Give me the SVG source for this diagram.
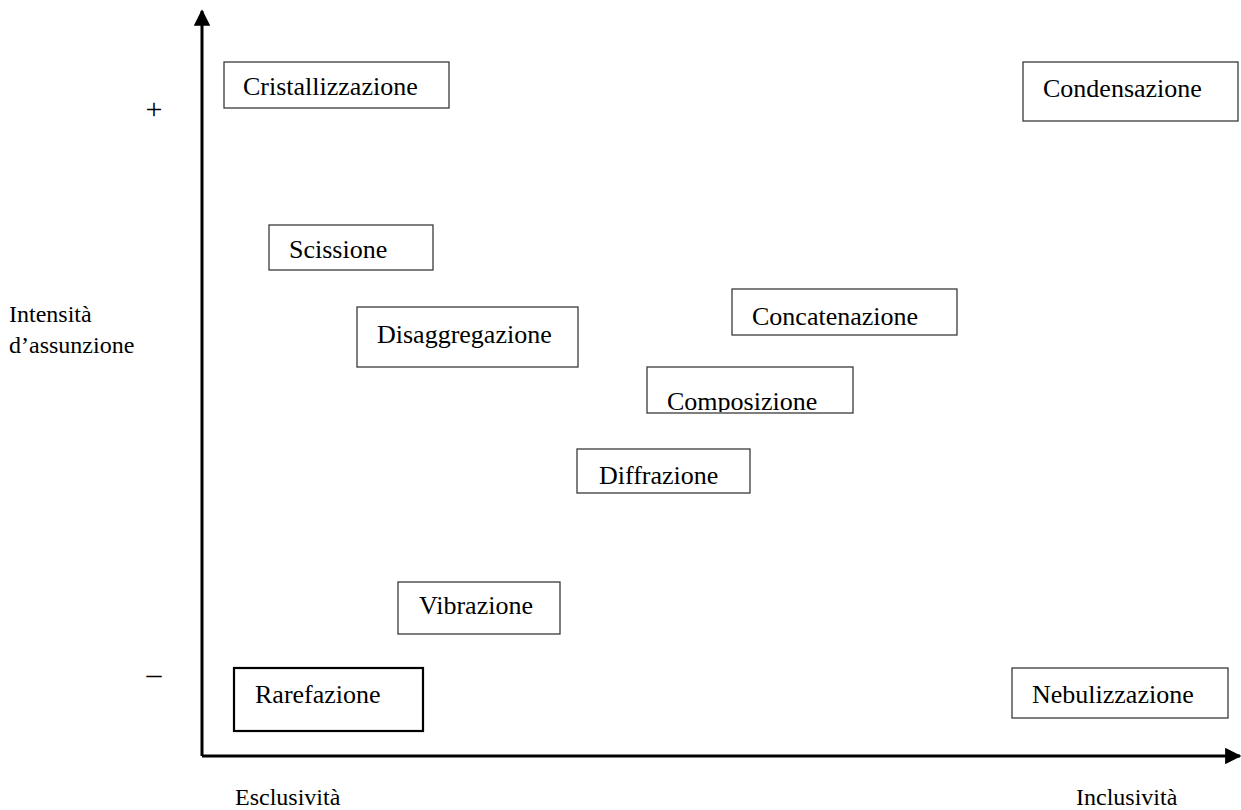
<svg xmlns="http://www.w3.org/2000/svg" width="1241" height="810" viewBox="0 0 1241 810">
  <style>
    .box { fill: #ffffff; stroke: #3a3a3a; stroke-width: 1.3; }
    .box.bold { stroke: #000000; stroke-width: 2.2; }
    .lbl { font-family: "Liberation Serif", "Times New Roman", serif; font-size: 26px; fill: #000000; }
    .axis-lbl { font-family: "Liberation Serif", "Times New Roman", serif; font-size: 24px; fill: #000000; }
    .mark { font-family: "Liberation Serif", "Times New Roman", serif; font-size: 30px; fill: #000000; text-anchor: middle; }
    .axis { stroke: #000000; stroke-width: 3; fill: none; }
  </style>
  <defs>
    <marker id="arrow" viewBox="0 0 10 10" refX="9" refY="5" markerWidth="5.5" markerHeight="5.5" markerUnits="strokeWidth" orient="auto">
      <path d="M0,0 L10,5 L0,10 Z" fill="#000000"/>
    </marker>
    <clipPath id="clip-composizione">
      <rect x="647" y="367" width="206" height="45"/>
    </clipPath>
  </defs>
  <rect width="1241" height="810" fill="#ffffff"/>

  <!-- axes -->
  <g id="connectors">
    <path class="axis" d="M202,756 L202,11" marker-end="url(#arrow)"/>
    <path class="axis" d="M202,756 L1240,756" marker-end="url(#arrow)"/>
  </g>

  <!-- axis labels and scale marks -->
  <g id="axis-labels">
    <text class="mark" x="154" y="119">+</text>
    <text class="mark" x="154" y="684">–</text>
    <text class="axis-lbl" x="9" y="322">Intensità</text>
    <text class="axis-lbl" x="9" y="353">d’assunzione</text>
    <text class="axis-lbl" x="235" y="805">Esclusività</text>
    <text class="axis-lbl" x="1076" y="805">Inclusività</text>
  </g>

  <g id="cristallizzazione">
    <rect class="box" x="224" y="62" width="225" height="46"/>
    <text class="lbl" x="243" y="95">Cristallizzazione</text>
  </g>
  <g id="condensazione">
    <rect class="box" x="1023" y="62" width="215" height="59"/>
    <text class="lbl" x="1043" y="97">Condensazione</text>
  </g>
  <g id="scissione">
    <rect class="box" x="269" y="225" width="164" height="45"/>
    <text class="lbl" x="289" y="258">Scissione</text>
  </g>
  <g id="disaggregazione">
    <rect class="box" x="357" y="307" width="221" height="60"/>
    <text class="lbl" x="377" y="343">Disaggregazione</text>
  </g>
  <g id="concatenazione">
    <rect class="box" x="732" y="289" width="225" height="46"/>
    <text class="lbl" x="752" y="325">Concatenazione</text>
  </g>
  <g id="composizione">
    <rect class="box" x="647" y="367" width="206" height="46"/>
    <text class="lbl" x="667" y="410" clip-path="url(#clip-composizione)">Composizione</text>
  </g>
  <g id="diffrazione">
    <rect class="box" x="577" y="449" width="173" height="44"/>
    <text class="lbl" x="599" y="484">Diffrazione</text>
  </g>
  <g id="vibrazione">
    <rect class="box" x="398" y="582" width="162" height="52"/>
    <text class="lbl" x="419" y="614">Vibrazione</text>
  </g>
  <g id="rarefazione">
    <rect class="box bold" x="234" y="668" width="189" height="63"/>
    <text class="lbl" x="255" y="703">Rarefazione</text>
  </g>
  <g id="nebulizzazione">
    <rect class="box" x="1012" y="668" width="216" height="50"/>
    <text class="lbl" x="1032" y="703">Nebulizzazione</text>
  </g>
</svg>
